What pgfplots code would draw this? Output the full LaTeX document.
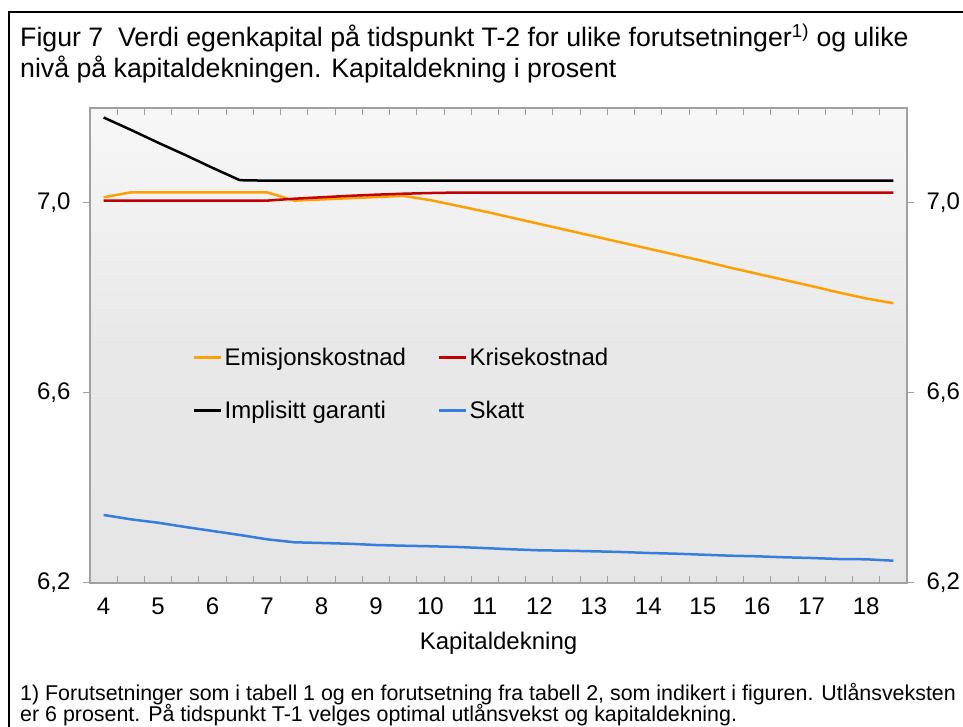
\documentclass[border=0pt]{standalone}
\usepackage{fontspec}
\setmainfont{Liberation Sans}
\usepackage{pgfplots}
\usepackage{pgfplotstable}
\pgfplotsset{compat=1.18}

\definecolor{emis}{RGB}{255,160,0}
\definecolor{krise}{RGB}{192,0,0}
\definecolor{skatt}{RGB}{55,125,220}
\definecolor{axgray}{RGB}{160,160,160}

\newcommand{\bigfont}{\fontsize{24bp}{28bp}\selectfont}
\newcommand{\titlefont}{\fontsize{26.7bp}{30bp}\selectfont}
\newcommand{\notefont}{\fontsize{21.4bp}{24bp}\selectfont}

% kapitaldekning, emisjonskostnad, krisekostnad, implisitt garanti, skatt
\pgfplotstableread{
x    emis    krise   impl   skatt
4    7.012   7.005   7.180  6.3432
4.5  7.0225  7.005   7.154  6.3341
5    7.0225  7.005   7.127  6.3269
5.5  7.0225  7.005   7.101  6.3179
6    7.0225  7.005   7.074  6.3095
6.5  7.0225  7.005   7.048  6.3011
7    7.0225  7.005   7.047  6.2920
7.5  7.005   7.009   7.047  6.2857
8    7.0075  7.012   7.047  6.2842
8.5  7.010   7.015   7.047  6.2827
9    7.0125  7.0175  7.047  6.2800
9.5  7.015   7.0195  7.047  6.2785
10   7.006   7.021   7.047  6.2773
10.5 6.994   7.022   7.047  6.2758
11   6.982   7.022   7.047  6.2735
11.5 6.969   7.022   7.047  6.2709
12   6.956   7.022   7.047  6.2688
12.5 6.943   7.022   7.047  6.2680
13   6.930   7.022   7.047  6.2667
13.5 6.917   7.022   7.047  6.2653
14   6.904   7.022   7.047  6.2632
14.5 6.891   7.022   7.047  6.2617
15   6.878   7.022   7.047  6.2596
15.5 6.864   7.022   7.047  6.2575
16   6.851   7.022   7.047  6.2562
16.5 6.838   7.022   7.047  6.2541
17   6.825   7.022   7.047  6.2526
17.5 6.8115  7.022   7.047  6.2505
18   6.799   7.022   7.047  6.2499
18.5 6.789   7.022   7.047  6.2469
}\data

\pgfplotsset{
  base/.style={
    at={(90bp,144bp)}, anchor=south west,
    scale only axis, width=817bp, height=475bp,
    xmin=3.75, xmax=18.75, ymin=6.2, ymax=7.2,
    axis line style={axgray, line width=1.2bp},
    /pgf/number format/assume math mode=true,
  },
  yside/.style={
    base, hide x axis,
    ytick={6.2,6.6,7.0}, tick align=outside, major tick length=7bp,
    tick style={axgray, line width=1bp},
    yticklabel style={font=\bigfont},
    /pgf/number format/fixed, /pgf/number format/fixed zerofill,
    /pgf/number format/precision=1, /pgf/number format/use comma,
  },
}

\begin{document}
\begin{tikzpicture}
\useasboundingbox (0,0) rectangle (963bp,727bp);
\draw[line width=2bp] (9bp,-20bp) -- (9bp,715bp) -- (990bp,715bp);
\node[anchor=base west, inner sep=0, font=\titlefont] at (20bp,680bp)
  {Figur 7\ \ Verdi egenkapital på tidspunkt T-2 for ulike forutsetninger\textsuperscript{1)} og ulike};
\node[anchor=base west, inner sep=0, font=\titlefont] at (20bp,649bp)
  {nivå på kapitaldekningen. Kapitaldekning i prosent};
\node[anchor=base west, inner sep=0, font=\notefont] at (20bp,27bp)
  {1) Forutsetninger som i tabell 1 og en forutsetning fra tabell 2, som indikert i figuren. Utlånsveksten};
\node[anchor=base west, inner sep=0, font=\notefont] at (20bp,6bp)
  {er 6 prosent. På tidspunkt T-1 velges optimal utlånsvekst og kapitaldekning.};

\begin{axis}[
  base,
  axis background/.style={top color=white!97!black, bottom color=white!90!black, middle color=white!91!black},
  xtick={4,...,18}, major tick length=0pt,
  minor xtick={4.25,4.75,...,18.25}, minor tick length=7bp, tick align=inside,
  minor tick style={axgray, line width=1bp},
  ytick=\empty,
  xticklabel style={font=\bigfont, yshift=-11bp},
  xlabel={Kapitaldekning}, xlabel style={font=\bigfont, yshift=-11bp},
  legend style={draw=none, fill=none, at={(0.126,0.499)}, anchor=north west,
    font=\bigfont, inner sep=0pt, row sep=30bp,
    /tikz/every even column/.append style={column sep=30bp}},
  legend columns=2, legend cell align=left,
  legend image code/.code={\draw[#1] (0bp,0bp) -- (27bp,0bp);},
  every axis plot/.append style={line width=2.5bp},
]
\addplot[emis] table[x=x, y=emis] {\data};
\addlegendentry{Emisjonskostnad}
\addplot[krise] table[x=x, y=krise] {\data};
\addlegendentry{Krisekostnad}
\addplot[black] table[x=x, y=impl] {\data};
\addlegendentry{Implisitt garanti}
\addplot[skatt] table[x=x, y=skatt] {\data};
\addlegendentry{Skatt}
\end{axis}

\begin{axis}[yside, axis y line*=left, yticklabel style={xshift=-9bp}]
\end{axis}
\begin{axis}[yside, axis y line*=right, yticklabel style={xshift=9bp}]
\end{axis}
\end{tikzpicture}
\end{document}
